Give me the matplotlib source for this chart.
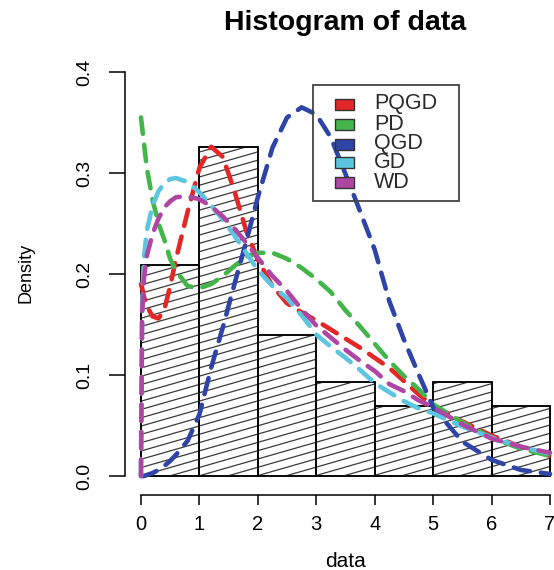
import matplotlib.pyplot as plt
import numpy as np
from matplotlib.collections import LineCollection
from matplotlib.patches import Rectangle

plt.rcParams['font.family'] = ['Liberation Sans', 'DejaVu Sans']

# histogram of the sample: unit-width bins, counts per bin
breaks = [0, 1, 2, 3, 4, 5, 6, 7]
counts = [9, 14, 6, 4, 3, 4, 3]

# fitted densities evaluated on a common grid
grid = [0, 0.02, 0.05, 0.1, 0.2, 0.3, 0.4, 0.5, 0.6, 0.8, 1.0, 1.2, 1.4, 1.6, 1.8,
        2.0, 2.25, 2.5, 2.75, 3.0, 3.25, 3.5, 3.75, 4.0, 4.25, 4.5, 4.75, 5.0,
        5.5, 6.0, 6.5, 7.0]
pqgd = [0.190, 0.186, 0.178, 0.168, 0.158, 0.156, 0.165, 0.188, 0.215, 0.262, 0.305,
        0.326, 0.316, 0.282, 0.243, 0.214, 0.188, 0.171, 0.162, 0.154, 0.145, 0.136,
        0.127, 0.117, 0.107, 0.094, 0.081, 0.070, 0.054, 0.040, 0.029, 0.020]
pd_ = [0.355, 0.345, 0.330, 0.305, 0.273, 0.250, 0.234, 0.215, 0.203, 0.188, 0.186,
       0.190, 0.198, 0.208, 0.217, 0.221, 0.221, 0.215, 0.206, 0.195, 0.182, 0.164,
       0.148, 0.131, 0.114, 0.099, 0.086, 0.071, 0.053, 0.038, 0.027, 0.020]
qgd = [0.0, 0.0, 0.0, 0.001, 0.003, 0.006, 0.010, 0.015, 0.021, 0.035, 0.061,
       0.107, 0.147, 0.190, 0.232, 0.276, 0.325, 0.355, 0.365, 0.358, 0.335, 0.299,
       0.262, 0.224, 0.173, 0.135, 0.101, 0.068, 0.034, 0.016, 0.006, 0.002]
gd = [0.0, 0.170, 0.215, 0.243, 0.268, 0.282, 0.290, 0.294, 0.295, 0.291, 0.281,
      0.268, 0.254, 0.238, 0.221, 0.204, 0.188, 0.176, 0.159, 0.140, 0.128, 0.117,
      0.105, 0.092, 0.083, 0.074, 0.067, 0.062, 0.049, 0.038, 0.029, 0.022]
wd = [0.0, 0.160, 0.195, 0.218, 0.240, 0.255, 0.266, 0.272, 0.276, 0.277, 0.274,
      0.267, 0.257, 0.245, 0.231, 0.216, 0.198, 0.183, 0.165, 0.149, 0.137, 0.125,
      0.114, 0.104, 0.091, 0.084, 0.075, 0.068, 0.051, 0.037, 0.029, 0.023]

names = ['PQGD', 'PD', 'QGD', 'GD', 'WD']
curves = [pqgd, pd_, qgd, gd, wd]
colors = ['#e32626', '#43b54a', '#2e44a6', '#5cc6e0', '#b046a4']

W, H = 554, 570
fig = plt.figure(figsize=(W / 100, H / 100), dpi=100)

# axes placed in pixels so the x range runs a little past the right edge
x0, x1 = -0.28, 7.28
y0, y1 = -0.0188, 0.42
left_px, bottom_px = 124.6, 495
ax_w, ax_h = 441.8, 443.2
ax = fig.add_axes([left_px / W, 1 - bottom_px / H, ax_w / W, ax_h / H])
ax.set_xlim(x0, x1)
ax.set_ylim(y0, y1)

n = sum(counts)
dens = [c / n for c in counts]
bars = ax.bar(breaks[:-1], dens, width=1, align='edge', facecolor='white',
              edgecolor='black', linewidth=1.1, zorder=2)

# shading lines inside each bar (shallow angle), clipped to the bar
theta = np.deg2rad(16)
step = 8.3
segs = []
for c in np.arange(-ax_w * np.tan(theta), ax_h, step):
    segs.append([(0, c / ax_h), (1, (c + ax_w * np.tan(theta)) / ax_h)])
for b in bars:
    lc = LineCollection(segs, colors='#3a3a3a', linewidths=0.9,
                        transform=ax.transAxes, zorder=2.5)
    ax.add_collection(lc, autolim=False)
    lc.set_clip_path(b.get_path(), b.get_transform())
for b in bars:
    ax.add_patch(Rectangle(b.get_xy(), b.get_width(), b.get_height(),
                           fill=False, edgecolor='black', linewidth=1.1, zorder=2.6))

for vals, col in zip(curves, colors):
    ax.plot(grid, vals, color=col, lw=3.3, linestyle=(0, (3.6, 2.4)),
            dash_capstyle='round', solid_capstyle='round', zorder=3)

for s in ['top', 'right']:
    ax.spines[s].set_visible(False)
ax.spines['left'].set_bounds(0, 0.4)
ax.spines['bottom'].set_bounds(0, 7)
ax.spines['left'].set_linewidth(1.1)
ax.spines['bottom'].set_linewidth(1.1)

ax.set_xticks(range(8))
ax.set_xticklabels([str(i) for i in range(8)])
ax.set_yticks([0, 0.1, 0.2, 0.3, 0.4])
ax.set_yticklabels(['0.0', '0.1', '0.2', '0.3', '0.4'])
ax.tick_params(axis='x', length=7.5, width=1.1, pad=7, labelsize=14.5)
ax.tick_params(axis='y', length=11.5, width=1.1, pad=11, labelsize=14,
               labelrotation=90)
for lbl in ax.get_yticklabels():
    lbl.set_va('center')

ax.set_title('Histogram of data', fontsize=20.5, fontweight='bold', pad=16)
ax.set_xlabel('data', fontsize=15)
ax.set_ylabel('Density', fontsize=13)
ax.xaxis.set_label_coords(0.5, (bottom_px - 552) / ax_h)
ax.yaxis.set_label_coords((35 - left_px) / ax_w, 0.5)

# legend box drawn in figure pixels
def fx(px):
    return px / W

def fy(py):
    return 1 - py / H

fig.add_artist(Rectangle((fx(313), fy(201)), (459 - 313) / W, (201 - 85) / H,
                         transform=fig.transFigure, fill=False,
                         edgecolor='#444444', linewidth=1.3))
rows = [104, 124, 144, 163, 182]
for name, col, ry in zip(names, colors, rows):
    fig.add_artist(Rectangle((fx(335), fy(ry + 5.5)), 19 / W, 11 / H,
                             transform=fig.transFigure, facecolor=col,
                             edgecolor='#333333', linewidth=1))
    fig.text(fx(374), fy(ry), name, fontsize=15.5, va='center', ha='left',
             color='#2a2a2a')

fig.savefig('out.png', dpi=100, facecolor='white')
